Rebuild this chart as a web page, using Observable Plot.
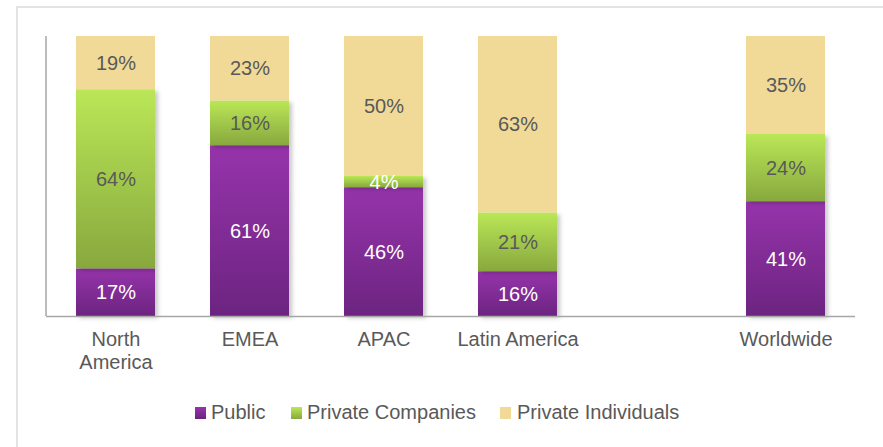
<!DOCTYPE html>
<html>
<head>
<meta charset="utf-8">
<script src="https://cdn.jsdelivr.net/npm/d3@7"></script>
<script src="https://cdn.jsdelivr.net/npm/@observablehq/plot@0.6"></script>
<style>
  html, body { margin: 0; padding: 0; background: #fff; }
  body { width: 883px; height: 447px; overflow: hidden; position: relative; font-family: "Liberation Sans", Arial, sans-serif; }
  #frame { position: absolute; left: 16px; top: 6px; right: -10px; bottom: -10px; border-top: 2px solid #e3e3e3; border-left: 2px solid #e3e3e3; pointer-events: none; }
  #chart { position: absolute; left: 0; top: 0; }
  #legend { position: absolute; left: 0; top: 390px; width: 883px; height: 57px; }
  .li { position: absolute; top: 11px; font-size: 20px; color: #595959; line-height: 22px; white-space: nowrap; }
  .sw { position: absolute; width: 11px; height: 12px; top: 17px; }
</style>
</head>
<body>
<div id="chart"></div>
<div id="legend"></div>
<div id="frame"></div>
<script>
const regions = ["North America", "EMEA", "APAC", "Latin America", "", "Worldwide"];
const regionLabels = ["North\nAmerica", "EMEA", "APAC", "Latin America", "", "Worldwide"];
const series = ["Public", "Private Companies", "Private Individuals"];
const publicValues = [17, 61, 46, 16, null, 41];
const companyValues = [64, 16, 4, 21, null, 24];
const individualValues = [19, 23, 50, 63, null, 35];

const gradIds = ["gPub", "gCo", "gInd"];
const gradStops = [["#9634ab", "#6c2480"], ["#bae757", "#88a83e"], ["#f1d998", "#f1d998"]];

const rows = [];
regions.forEach((r, i) => {
  if (r === "") return;
  [publicValues, companyValues, individualValues].forEach((arr, k) => {
    rows.push({region: r, series: series[k], value: arr[i]});
  });
});
const labelRows = regions.map((r, i) => ({region: r, label: regionLabels[i]})).filter(d => d.region !== "");

const isWhite = d => d.series === "Public" || d.value < 10;

const plot = Plot.plot({
  width: 883,
  height: 390,
  marginLeft: 46,
  marginRight: 28,
  marginTop: 36,
  marginBottom: 74,
  style: {fontFamily: "Liberation Sans, Arial, sans-serif", background: "transparent"},
  x: {domain: regions, axis: null, paddingInner: 0.414, paddingOuter: 0.207},
  y: {domain: [0, 100], axis: null},
  color: {domain: series, range: gradIds.map(id => `url(#${id})`)},
  marks: [
    Plot.barY(rows, Plot.stackY({x: "region", y: "value", fill: "series", order: null})),
    Plot.text(rows, Plot.stackY({x: "region", y: "value", z: "series", order: null, text: d => isWhite(d) ? "" : d.value + "%", fill: "#595959", fontSize: 20})),
    Plot.text(rows, Plot.stackY({x: "region", y: "value", z: "series", order: null, text: d => isWhite(d) ? d.value + "%" : "", fill: "white", fontSize: 20})),
    Plot.ruleY([0], {stroke: "#a6a6a6", strokeWidth: 1.5}),
    Plot.text(labelRows, {x: "region", text: "label", frameAnchor: "bottom", lineAnchor: "top", dy: 13, fontSize: 20, fill: "#595959", lineHeight: 1.15})
  ]
});

// gradients
const svg = d3.select(plot);
const defs = svg.insert("defs", ":first-child");
gradIds.forEach((id, i) => {
  const g = defs.append("linearGradient").attr("id", id).attr("x1", 0).attr("y1", 0).attr("x2", 0).attr("y2", 1);
  g.append("stop").attr("offset", "0%").attr("stop-color", gradStops[i][0]);
  g.append("stop").attr("offset", "100%").attr("stop-color", gradStops[i][1]);
});
svg.selectAll("rect").each(function() {
  const f = this.getAttribute("fill");
  if (f === "url(#gPub)" || f === "url(#gCo)") this.style.filter = "drop-shadow(3px 2px 2px rgba(0,0,0,0.22))";
});
// y axis line along left edge of the frame
svg.append("line")
  .attr("x1", 46).attr("x2", 46)
  .attr("y1", 36).attr("y2", 390 - 74)
  .attr("stroke", "#a6a6a6").attr("stroke-width", 1.5);

document.getElementById("chart").appendChild(plot);

// legend
const legend = document.getElementById("legend");
const legendPos = [[195, 211], [291, 307], [500, 517]];
series.forEach((s, i) => {
  const sw = document.createElement("div");
  sw.className = "sw";
  sw.style.left = legendPos[i][0] + "px";
  sw.style.background = `linear-gradient(${gradStops[i][0]}, ${gradStops[i][1]})`;
  legend.appendChild(sw);
  const t = document.createElement("div");
  t.className = "li";
  t.style.left = legendPos[i][1] + "px";
  t.textContent = s;
  legend.appendChild(t);
});
</script>
</body>
</html>
